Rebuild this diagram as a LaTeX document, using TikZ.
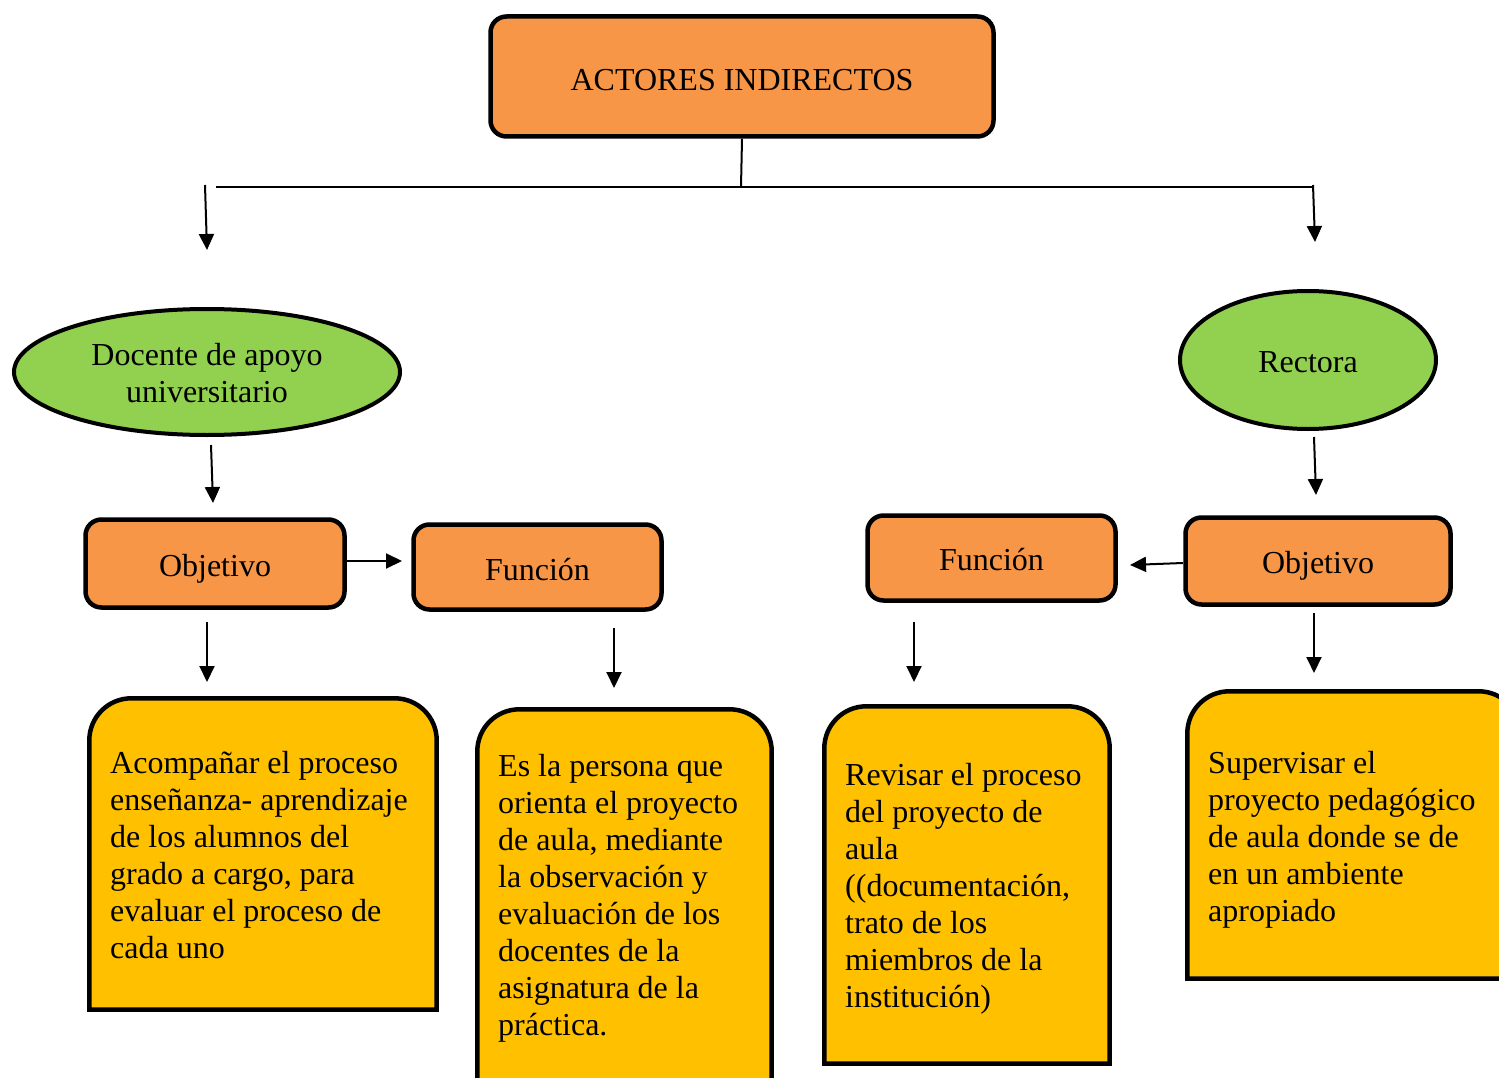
\documentclass[tikz,border=0pt]{standalone}
\usepackage{fontspec}
\setmainfont{Liberation Serif}
\usetikzlibrary{arrows.meta,shapes.geometric}
\definecolor{borange}{HTML}{F79646}
\definecolor{bgreen}{HTML}{92D050}
\definecolor{byellow}{HTML}{FFC000}
\newcommand\yshape[1]{\path[ypath] (#1.south west) -- ([yshift=-42pt]#1.north west) arc[start angle=180,end angle=90,radius=42pt] -- ([xshift=-42pt]#1.north east) arc[start angle=90,end angle=0,radius=42pt] -- (#1.south east) -- cycle;}
\begin{document}
\begin{tikzpicture}[x=1pt,y=-1pt,
  every node/.style={font=\fontsize{32}{37}\selectfont},
  obox/.style={draw, line width=4.5pt, fill=borange, rounded corners=16pt, inner sep=0pt, rectangle},
  gell/.style={draw, line width=4pt, fill=bgreen, ellipse, inner sep=0pt},
  lbl/.style={inner sep=0pt, align=center},
  ypath/.style={draw, line width=4.5pt, fill=byellow},
  yfill/.style={inner sep=0pt, rectangle},
  btext/.style={anchor=north west, inner sep=0pt, align=left},
  conn/.style={line width=2pt},
  arr/.style={line width=2pt, -{Triangle[length=16pt,width=15pt]}},
]
\useasboundingbox (0,0) rectangle (1499,1078);

% top box
\node[obox, minimum width=503pt, minimum height=120pt] (top) at (742,76.5) {};
\node[lbl] (topl) at (742,80.5) {ACTORES INDIRECTOS};

% ellipses
\node[gell, minimum width=386pt, minimum height=126pt] (doc) at (207,372) {};
\node[lbl] (docl) at (207,373) {Docente de apoyo\\universitario};
\node[gell, minimum width=256pt, minimum height=138pt] (rec) at (1308,360) {};
\node[lbl] (recl) at (1308,362) {Rectora};

% orange boxes
\node[obox, minimum width=259pt, minimum height=88pt] (obj1) at (215,563.5) {};
\node[lbl] (obj1l) at (215,568.5) {Objetivo};
\node[obox, minimum width=248pt, minimum height=85pt] (fun1) at (537.5,567) {};
\node[lbl] (fun1l) at (537.5,570) {Función};
\node[obox, minimum width=248pt, minimum height=85pt] (fun2) at (991.5,558) {};
\node[lbl] (fun2l) at (991.5,560) {Función};
\node[obox, minimum width=265pt, minimum height=87pt] (obj2) at (1318,561) {};
\node[lbl] (obj2l) at (1318,566) {Objetivo};

% yellow boxes
\node[yfill, minimum width=347pt, minimum height=311pt] (y1) at (263,854) {};
\node[yfill, minimum width=294pt, minimum height=381pt] (y2) at (624.5,900) {};
\node[yfill, minimum width=285pt, minimum height=357pt] (y3) at (967,885) {};
\node[yfill, minimum width=333pt, minimum height=287pt] (y4) at (1354,835) {};
\yshape{y1}
\yshape{y2}
\yshape{y3}
\yshape{y4}

\node[btext] (t1) at (110,751) {Acompañar el proceso\\enseñanza- aprendizaje\\de los alumnos del\\grado a cargo, para\\evaluar el proceso de\\cada uno};
\node[btext] (t2) at (498,754) {Es la persona que\\orienta el proyecto\\de aula, mediante\\la observación y\\evaluación de los\\docentes de la\\asignatura de la\\práctica.};
\node[btext] (t3) at (845,763) {Revisar el proceso\\del proyecto de\\aula\\((documentación,\\trato de los\\miembros de la\\institución)};
\node[btext] (t4) at (1208,751) {Supervisar el\\proyecto pedagógico\\de aula donde se de\\en un ambiente\\apropiado};

% connector coordinates
\coordinate (hj) at (741,187);
\coordinate (hl) at (216,187);
\coordinate (hr) at (1314,187);
\coordinate (a1s) at (205,185);   \coordinate (a1e) at (207,250);
\coordinate (a2s) at (1313,185);  \coordinate (a2e) at (1315,242);
\coordinate (a3s) at (211,445);   \coordinate (a3e) at (213,503);
\coordinate (a4s) at (1314,437);  \coordinate (a4e) at (1316,495);
\coordinate (a5s) at (347,561);   \coordinate (a5e) at (402,561);
\coordinate (a6s) at (1183,563);  \coordinate (a6e) at (1130,565);
\coordinate (a7s) at (207,622);   \coordinate (a7e) at (207,682);
\coordinate (a8s) at (614,628);   \coordinate (a8e) at (614,688);
\coordinate (a9s) at (914,622);   \coordinate (a9e) at (914,682);
\coordinate (a10s) at (1314,613); \coordinate (a10e) at (1314,673);

\draw[conn] (top.south) -- (hj);
\draw[conn] (hl) -- (hr);
\draw[arr] (a1s) -- (a1e);
\draw[arr] (a2s) -- (a2e);
\draw[arr] (a3s) -- (a3e);
\draw[arr] (a4s) -- (a4e);
\draw[arr] (a5s) -- (a5e);
\draw[arr] (a6s) -- (a6e);
\draw[arr] (a7s) -- (a7e);
\draw[arr] (a8s) -- (a8e);
\draw[arr] (a9s) -- (a9e);
\draw[arr] (a10s) -- (a10e);
\end{tikzpicture}
\end{document}
